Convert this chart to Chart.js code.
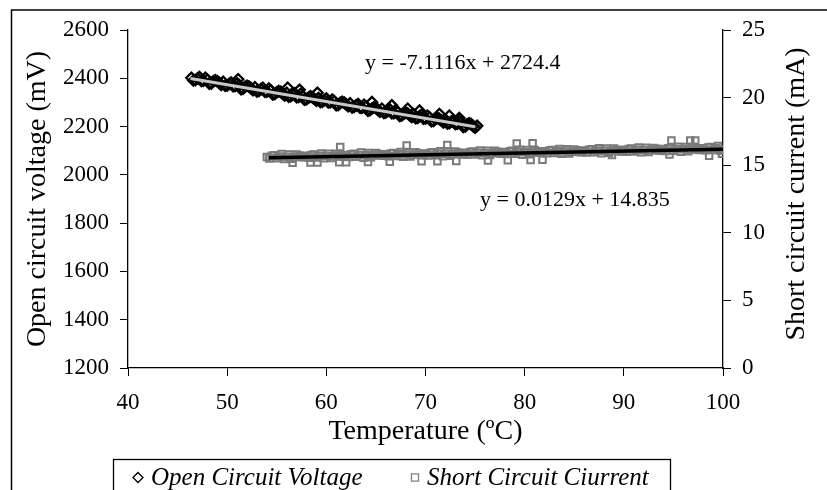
<!DOCTYPE html>
<html>
<head>
<meta charset="utf-8">
<script src="https://cdn.jsdelivr.net/npm/chart.js@4.4.1/dist/chart.umd.min.js"></script>
<style>
  html, body { margin: 0; padding: 0; background: #fff; }
</style>
</head>
<body>
<canvas id="mycanvas" width="827" height="490"></canvas>
<script>
// open circuit voltage readings (temperature in C, voltage in mV)
var vocTemp = [46.4, 46.8, 47.2, 47.6, 48.0, 48.4, 48.8, 49.2, 49.6, 50.0,
  50.4, 50.8, 51.2, 51.6, 52.0, 52.4, 52.8, 53.2, 53.6, 54.0,
  54.4, 54.8, 55.2, 55.6, 56.0, 56.4, 56.8, 57.2, 57.6, 58.0,
  58.4, 58.8, 59.2, 59.6, 60.0, 60.4, 60.8, 61.2, 61.6, 62.0,
  62.4, 62.8, 63.2, 63.6, 64.0, 64.4, 64.8, 65.2, 65.6, 66.0,
  66.4, 66.8, 67.2, 67.6, 68.0, 68.4, 68.8, 69.2, 69.6, 70.0,
  70.4, 70.8, 71.2, 71.6, 72.0, 72.4, 72.8, 73.2, 73.6, 74.0,
  74.4, 74.8, 75.2,
  46.6, 47.0, 47.4, 47.8, 48.2, 48.6, 49.0, 49.4, 49.8, 50.2,
  50.6, 51.0, 51.4, 51.8, 52.2, 52.6, 53.0, 53.4, 53.8, 54.2,
  54.6, 55.0, 55.4, 55.8, 56.2, 56.6, 57.0, 57.4, 57.8, 58.2,
  58.6, 59.0, 59.4, 59.8, 60.2, 60.6, 61.0, 61.4, 61.8, 62.2,
  62.6, 63.0, 63.4, 63.8, 64.2, 64.6, 65.0, 65.4, 65.8, 66.2,
  66.6, 67.0, 67.4, 67.8, 68.2, 68.6, 69.0, 69.4, 69.8, 70.2,
  70.6, 71.0, 71.4, 71.8, 72.2, 72.6, 73.0, 73.4, 73.8, 74.2,
  74.6, 75.0,
  51.1, 56.1, 57.3, 59.1, 64.6, 66.6, 68.2, 69.4, 71.4, 72.4, 73.4];
var vocMv = [2402, 2393, 2405, 2390, 2394, 2379, 2392, 2381, 2385, 2370,
  2382, 2368, 2372, 2357, 2369, 2359, 2363, 2348, 2360, 2345,
  2350, 2335, 2347, 2336, 2340, 2326, 2338, 2323, 2327, 2313,
  2325, 2314, 2318, 2303, 2316, 2301, 2305, 2290, 2302, 2292,
  2296, 2281, 2293, 2278, 2283, 2268, 2280, 2269, 2274, 2259,
  2271, 2256, 2260, 2246, 2258, 2247, 2251, 2236, 2249, 2234,
  2238, 2223, 2236, 2225, 2229, 2214, 2226, 2212, 2216, 2201,
  2213, 2202, 2203,
  2391, 2399, 2389, 2402, 2378, 2387, 2388, 2373, 2369, 2377,
  2367, 2379, 2355, 2365, 2366, 2351, 2346, 2355, 2345, 2357,
  2333, 2342, 2344, 2329, 2324, 2332, 2322, 2335, 2311, 2320,
  2321, 2307, 2302, 2310, 2300, 2312, 2289, 2298, 2299, 2284,
  2279, 2288, 2278, 2290, 2266, 2275, 2277, 2262, 2257, 2265,
  2256, 2268, 2244, 2253, 2254, 2240, 2235, 2243, 2233, 2245,
  2222, 2231, 2232, 2217, 2213, 2221, 2211, 2223, 2199, 2209,
  2210, 2195,
  2396, 2361, 2352, 2340, 2301, 2288, 2274, 2266, 2252, 2245, 2235];

// short circuit current readings (temperature in C, current in mA)
var iscTemp = [54.0, 54.5, 55.0, 55.5, 56.0, 56.5, 57.0, 57.5, 58.0, 58.5,
  59.0, 59.5, 60.0, 60.5, 61.0, 61.5, 62.0, 62.5, 63.0, 63.5,
  64.0, 64.5, 65.0, 65.5, 66.0, 66.5, 67.0, 67.5, 68.0, 68.5,
  69.0, 69.5, 70.0, 70.5, 71.0, 71.5, 72.0, 72.5, 73.0, 73.5,
  74.0, 74.5, 75.0, 75.5, 76.0, 76.5, 77.0, 77.5, 78.0, 78.5,
  79.0, 79.5, 80.0, 80.5, 81.0, 81.5, 82.0, 82.5, 83.0, 83.5,
  84.0, 84.5, 85.0, 85.5, 86.0, 86.5, 87.0, 87.5, 88.0, 88.5,
  89.0, 89.5, 90.0, 90.5, 91.0, 91.5, 92.0, 92.5, 93.0, 93.5,
  94.0, 94.5, 95.0, 95.5, 96.0, 96.5, 97.0, 97.5, 98.0, 98.5,
  99.0, 99.5, 100.0,
  54.25, 54.75, 55.25, 55.75, 56.25, 56.75, 57.25, 57.75, 58.25, 58.75,
  59.25, 59.75, 60.25, 60.75, 61.25, 61.75, 62.25, 62.75, 63.25, 63.75,
  64.25, 64.75, 65.25, 65.75, 66.25, 66.75, 67.25, 67.75, 68.25, 68.75,
  69.25, 69.75, 70.25, 70.75, 71.25, 71.75, 72.25, 72.75, 73.25, 73.75,
  74.25, 74.75, 75.25, 75.75, 76.25, 76.75, 77.25, 77.75, 78.25, 78.75,
  79.25, 79.75, 80.25, 80.75, 81.25, 81.75, 82.25, 82.75, 83.25, 83.75,
  84.25, 84.75, 85.25, 85.75, 86.25, 86.75, 87.25, 87.75, 88.25, 88.75,
  89.25, 89.75, 90.25, 90.75, 91.25, 91.75, 92.25, 92.75, 93.25, 93.75,
  94.25, 94.75, 95.25, 95.75, 96.25, 96.75, 97.25, 97.75, 98.25, 98.75,
  99.25, 99.75,
  61.4, 68.1, 72.2, 79.2, 80.8, 94.8, 96.7, 97.2,
  56.6, 58.4, 59.1, 61.3, 62.0, 64.2, 66.4, 69.6, 71.2, 73.1,
  76.3, 78.3, 80.6, 81.8, 88.8, 94.6, 98.6, 99.9];
var iscMa = [15.60, 15.70, 15.51, 15.82, 15.63, 15.48, 15.79, 15.60, 15.70, 15.76,
  15.57, 15.87, 15.68, 15.54, 15.84, 15.65, 15.76, 15.81, 15.62, 15.93,
  15.73, 15.59, 15.90, 15.71, 15.81, 15.87, 15.68, 15.98, 15.79, 15.65,
  15.95, 15.76, 15.87, 15.92, 15.73, 16.04, 15.85, 15.70, 16.01, 15.82,
  15.92, 15.98, 15.79, 16.09, 15.90, 15.76, 16.06, 15.87, 15.98, 16.03,
  15.84, 16.15, 15.96, 15.81, 16.12, 15.93, 16.03, 16.09, 15.90, 16.20,
  16.01, 15.87, 16.17, 15.98, 16.09, 16.14, 15.95, 16.26, 16.07, 15.92,
  16.23, 16.04, 16.14, 16.20, 16.01, 16.31, 16.12, 15.98, 16.28, 16.09,
  16.20, 16.25, 16.06, 16.37, 16.18, 16.03, 16.34, 16.15, 16.25, 16.31,
  16.12, 16.42, 16.18,
  15.50, 15.74, 15.64, 15.45, 15.80, 15.61, 15.71, 15.58, 15.56, 15.79,
  15.70, 15.51, 15.85, 15.66, 15.77, 15.63, 15.61, 15.85, 15.75, 15.56,
  15.91, 15.72, 15.82, 15.69, 15.67, 15.90, 15.81, 15.62, 15.96, 15.77,
  15.88, 15.74, 15.72, 15.96, 15.87, 15.67, 16.02, 15.83, 15.93, 15.80,
  15.78, 16.01, 15.92, 15.73, 16.07, 15.88, 15.99, 15.85, 15.83, 16.07,
  15.98, 15.78, 16.13, 15.94, 16.04, 15.91, 15.89, 16.12, 16.03, 15.84,
  16.18, 15.99, 16.10, 15.96, 15.94, 16.18, 16.09, 15.89, 16.24, 16.05,
  16.15, 16.02, 16.00, 16.23, 16.14, 15.95, 16.29, 16.10, 16.21, 16.07,
  16.05, 16.29, 16.20, 16.00, 16.35, 16.16, 16.26, 16.13, 16.11, 16.34,
  16.25, 16.06,
  16.35, 16.45, 16.50, 16.60, 16.62, 16.83, 16.83, 16.83,
  15.18, 15.20, 15.20, 15.22, 15.22, 15.23, 15.25, 15.30, 15.30, 15.32,
  15.35, 15.36, 15.38, 15.40, 15.75, 15.80, 15.70, 15.85];

// linear trend lines, end points
var vocFitTemp = [46.3, 75.0];
var vocFitMv = [2399, 2199];
var iscFitTemp = [54.2, 100];
var iscFitMa = [15.55, 16.18];

var vocEquation = 'y = -7.1116x + 2724.4';
var iscEquation = 'y = 0.0129x + 14.835';

var serif = "'Liberation Serif', 'Times New Roman', serif";

function pairs(xs, ys) {
  var out = [];
  for (var i in xs) {
    out.push({x: xs[i], y: ys[i]});
  }
  return out;
}

// white page and the outer frame
var framePlugin = {
  id: 'frame',
  beforeDraw: function(chart) {
    var ctx = chart.ctx;
    ctx.save();
    ctx.fillStyle = '#fff';
    ctx.fillRect(0, 0, chart.width, chart.height);
    ctx.strokeStyle = '#000';
    ctx.lineWidth = 1.5;
    ctx.strokeRect(11.5, 10, 900, 600);
    ctx.restore();
  }
};

// equations, right axis title and the boxed legend
var extrasPlugin = {
  id: 'extras',
  afterDraw: function(chart) {
    var ctx = chart.ctx;
    var sx = chart.scales.x, sy = chart.scales.y, sy1 = chart.scales.y1;
    ctx.save();
    ctx.fillStyle = '#000';
    ctx.font = '22px ' + serif;
    ctx.textAlign = 'left';
    ctx.textBaseline = 'middle';
    ctx.fillText(vocEquation, sx.getPixelForValue(63.9), sy.getPixelForValue(2463));
    ctx.fillText(iscEquation, sx.getPixelForValue(75.5), sy1.getPixelForValue(12.4));

    ctx.save();
    ctx.translate(797, 194);
    ctx.rotate(-Math.PI / 2);
    ctx.font = '28px ' + serif;
    ctx.textAlign = 'center';
    ctx.fillText('Short circuit current (mA)', 0, 0);
    ctx.restore();

    ctx.strokeStyle = '#000';
    ctx.lineWidth = 1.3;
    ctx.strokeRect(113.5, 459.5, 557, 40);

    ctx.fillStyle = '#fff';
    ctx.strokeStyle = '#000';
    Chart.helpers.drawPoint(ctx, {pointStyle: 'rectRot', radius: 5, borderWidth: 1.3}, 138, 477.5);
    ctx.fillStyle = '#fff';
    ctx.strokeStyle = '#808080';
    Chart.helpers.drawPoint(ctx, {pointStyle: 'rect', radius: 5, borderWidth: 1.5}, 415, 477.5);

    ctx.fillStyle = '#000';
    ctx.font = 'italic 25px ' + serif;
    ctx.textAlign = 'left';
    ctx.fillText('Open Circuit Voltage', 151, 478);
    ctx.fillText('Short Circuit Ciurrent', 427, 478);
    ctx.restore();
  }
};

var axisGrid = {
  drawOnChartArea: false,
  drawTicks: true,
  tickLength: 8,
  color: '#000',
  tickColor: '#000',
  lineWidth: 1
};
var axisBorder = { display: true, color: '#000', width: 1.3 };
var plainLabel = function(value) { return String(value); };

var ctx = document.getElementById('mycanvas');

var chart = new Chart(ctx, {
  type: 'scatter',
  data: {
    datasets: [
      {
        label: 'Open Circuit Voltage trend',
        data: pairs(vocFitTemp, vocFitMv),
        yAxisID: 'y',
        showLine: true,
        borderColor: '#c8c8c8',
        borderWidth: 3,
        pointRadius: 0,
        order: 0
      },
      {
        label: 'Short Circuit Ciurrent trend',
        data: pairs(iscFitTemp, iscFitMa),
        yAxisID: 'y1',
        showLine: true,
        borderColor: '#000',
        borderWidth: 3.5,
        pointRadius: 0,
        order: 0
      },
      {
        label: 'Open Circuit Voltage',
        data: pairs(vocTemp, vocMv),
        yAxisID: 'y',
        pointStyle: 'rectRot',
        pointRadius: 5.2,
        borderColor: '#000',
        borderWidth: 2.3,
        backgroundColor: 'rgba(0,0,0,0)',
        order: 1
      },
      {
        label: 'Short Circuit Ciurrent',
        data: pairs(iscTemp, iscMa),
        yAxisID: 'y1',
        pointStyle: 'rect',
        pointRadius: 4.6,
        borderColor: '#7a7a7a',
        borderWidth: 2,
        backgroundColor: 'rgba(0,0,0,0)',
        order: 2
      }
    ]
  },
  options: {
    responsive: false,
    animation: false,
    layout: { padding: { left: 21, right: 0, top: 30, bottom: 42 } },
    plugins: {
      legend: { display: false },
      tooltip: { enabled: false }
    },
    scales: {
      x: {
        type: 'linear',
        position: 'bottom',
        min: 40,
        max: 100,
        ticks: { stepSize: 10, padding: 13, color: '#000', font: { family: serif, size: 23 }, callback: plainLabel },
        grid: axisGrid,
        border: axisBorder,
        title: {
          display: true,
          text: 'Temperature (ºC)',
          color: '#000',
          padding: 0,
          font: { family: serif, size: 28 }
        },
        afterFit: function(scale) { scale.height = 80; }
      },
      y: {
        type: 'linear',
        position: 'left',
        min: 1200,
        max: 2600,
        ticks: { stepSize: 200, padding: 11, color: '#000', font: { family: serif, size: 23 }, callback: plainLabel },
        grid: axisGrid,
        border: axisBorder,
        title: {
          display: true,
          text: 'Open circuit voltage (mV)',
          color: '#000',
          padding: 0,
          font: { family: serif, size: 28 }
        },
        afterFit: function(scale) { scale.width = 107; }
      },
      y1: {
        type: 'linear',
        position: 'right',
        min: 0,
        max: 25,
        ticks: { stepSize: 5, padding: 11, color: '#000', font: { family: serif, size: 23 }, callback: plainLabel },
        grid: axisGrid,
        border: axisBorder,
        afterFit: function(scale) { scale.width = 104; }
      }
    }
  },
  plugins: [framePlugin, extrasPlugin]
});
</script>
</body>
</html>
